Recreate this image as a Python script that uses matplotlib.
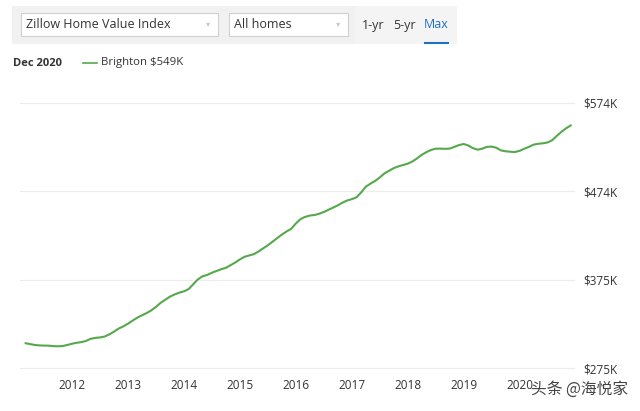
import matplotlib
matplotlib.use("Agg")
import matplotlib.pyplot as plt
from matplotlib.patches import Rectangle
import numpy as np

# Zillow Home Value Index, Brighton, monthly Mar 2011 .. Dec 2020 (in $K)
start_year, start_month = 2011, 3
zhvi_k = [
    # 2011 (Mar-Dec)
    303.0, 302.0, 301.0, 300.5, 300.3, 300.2, 299.7, 299.5, 299.8, 301.0,
    # 2012
    302.4, 303.5, 304.2, 305.5, 308.0, 309.0, 309.5, 310.5, 313.0, 316.0, 319.5, 322.0,
    # 2013
    325.0, 328.5, 331.8, 334.5, 337.0, 340.0, 344.0, 348.5, 352.0, 355.5, 358.0, 360.0,
    # 2014
    361.5, 364.0, 369.5, 375.0, 378.5, 380.0, 382.5, 384.5, 386.5, 388.0, 391.0, 394.0,
    # 2015
    397.5, 400.5, 402.0, 403.5, 406.5, 410.0, 413.5, 417.5, 421.5, 425.5, 429.0, 432.0,
    # 2016
    438.0, 443.0, 445.5, 447.0, 447.6, 449.0, 451.0, 453.5, 456.0, 458.5, 461.5, 464.0,
    # 2017
    465.5, 467.5, 473.0, 479.5, 483.0, 486.0, 490.0, 494.5, 497.5, 500.5, 502.5, 504.0,
    # 2018
    505.5, 508.0, 511.5, 515.5, 518.5, 521.0, 522.4, 522.5, 522.3, 522.5, 524.5, 526.5,
    # 2019
    527.7, 526.0, 523.0, 521.3, 522.5, 524.5, 524.8, 523.5, 520.5, 519.5, 519.0, 518.7,
    # 2020
    520.0, 522.4, 524.5, 527.0, 528.0, 528.5, 529.5, 532.0, 537.0, 541.6, 545.5, 548.8,
]
year_ticks = [2012, 2013, 2014, 2015, 2016, 2017, 2018, 2019, 2020]
value_ticks = [275, 374.7, 474.3, 574]
value_labels = ["$275K", "$375K", "$474K", "$574K"]

FONT = ["Open Sans", "DejaVu Sans"]
GREEN = "#55a84b"
TXT = "#333333"

plt.rcParams["font.family"] = FONT

months = np.arange(len(zhvi_k))
x = start_year + (start_month - 1 + months) / 12.0

fig = plt.figure(figsize=(6.4, 4.11), dpi=100)
fig.patch.set_facecolor("white")

# main chart axes (pixel layout: x 20..575, y 95..372)
ax = fig.add_axes([20 / 640, 1 - 372 / 411, 555 / 640, 277 / 411])
ax.plot(x, zhvi_k, color=GREEN, lw=1.5, solid_capstyle="round")
ax.set_xlim(2011.07, 2020.99)
ax.set_ylim(270.5, 583.0)
ax.set_yticks(value_ticks)
ax.set_yticklabels(value_labels)
ax.yaxis.tick_right()
ax.set_xticks(year_ticks)
ax.set_xticklabels([str(y) for y in year_ticks])
ax.tick_params(length=0, labelsize=8.5, colors=TXT)
ax.tick_params(axis="x", pad=5)
ax.tick_params(axis="y", pad=6)
ax.grid(axis="y", color="#ececec", lw=0.8)
ax.set_axisbelow(True)
for s in ax.spines.values():
    s.set_visible(False)

# overlay in pixel coordinates for the header widgets
ov = fig.add_axes([0, 0, 1, 1], zorder=-1)
ov.set_xlim(0, 640)
ov.set_ylim(411, 0)
ov.axis("off")

ov.add_patch(Rectangle((12, 6), 343, 38, fc="#f1f1f1", ec="none"))
ov.add_patch(Rectangle((355, 6), 102, 38, fc="#f4f4f4", ec="none"))
ov.add_patch(Rectangle((21, 13), 197, 23, fc="white", ec="#cfcfcf", lw=0.8))
ov.add_patch(Rectangle((229, 13), 119, 23, fc="white", ec="#cfcfcf", lw=0.8))
ov.text(26, 25, "Zillow Home Value Index", fontsize=9, color=TXT, va="center")
ov.text(234, 25, "All homes", fontsize=9, color=TXT, va="center")
ov.text(208, 24.5, "\u25be", fontsize=6, color="#c8c8c8", va="center", ha="center")
ov.text(338, 24.5, "\u25be", fontsize=6, color="#c8c8c8", va="center", ha="center")
ov.text(373, 25, "1-yr", fontsize=9, color=TXT, va="center", ha="center")
ov.text(405, 25, "5-yr", fontsize=9, color=TXT, va="center", ha="center")
ov.text(436, 25, "Max", fontsize=9, color="#1f6fc5", va="center", ha="center")
ov.plot([425, 448], [43, 43], color="#1f6fc5", lw=1.5)

ov.text(13, 63, "Dec 2020", fontsize=8, color=TXT, fontweight="bold", va="center")
ov.plot([83, 97], [63, 63], color=GREEN, lw=1.2)
ov.text(101, 63, "Brighton $549K", fontsize=8.2, color=TXT, va="center")

fig.text(628 / 640, 1 - 389 / 411, "头条 @海悦家", fontsize=11.3, color="#444444",
         ha="right", va="center", family=["Noto Sans CJK SC", "DejaVu Sans"])

fig.savefig("out.png", dpi=100)
